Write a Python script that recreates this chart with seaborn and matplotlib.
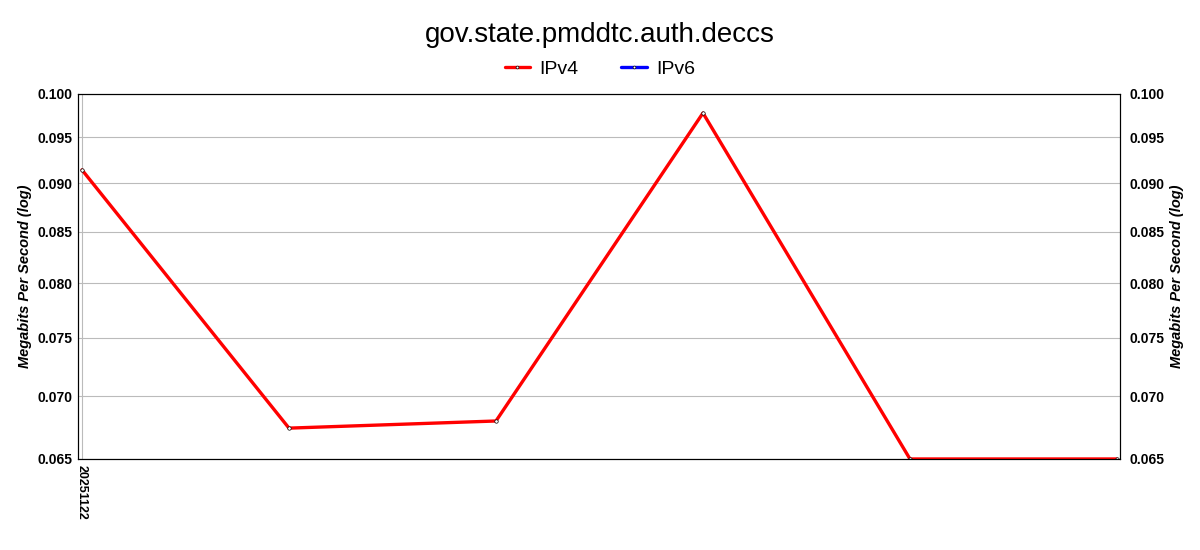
import matplotlib
matplotlib.use("Agg")
import matplotlib.pyplot as plt
import seaborn as sns
import pandas as pd
from matplotlib.ticker import FixedLocator, FixedFormatter, NullLocator
from matplotlib.lines import Line2D

title = "gov.state.pmddtc.auth.deccs"
dates = ["20251122", "", "", "", "", ""]
ipv4 = [0.09143, 0.06741, 0.06798, 0.09778, 0.0650, 0.0650]
ipv6 = []
yticks = [0.065, 0.070, 0.075, 0.080, 0.085, 0.090, 0.095, 0.100]

sns.set_theme(style="white")
plt.rcParams['font.family'] = ['Liberation Sans', 'DejaVu Sans']
plt.rcParams['text.color'] = 'black'
plt.rcParams['axes.labelcolor'] = 'black'
plt.rcParams['xtick.color'] = 'black'
plt.rcParams['ytick.color'] = 'black'

fig = plt.figure(figsize=(12, 5.5), dpi=100)
ax = fig.add_axes([0.065, 0.1655, 0.8683, 0.6636])

df = pd.DataFrame({"idx": list(range(len(ipv4))), "val": ipv4})
sns.lineplot(data=df, x="idx", y="val", ax=ax, color="#ff0000", linewidth=2.4,
             marker="o", markersize=2.5, markerfacecolor="white",
             markeredgecolor="black", markeredgewidth=0.5, legend=False, zorder=3)
ax.plot(range(len(ipv6)), ipv6, color="#0000ff", linewidth=2.4)

ax.set_yscale("log")
ax.set_ylim(0.065, 0.100)
ax.set_xlim(-0.0193, len(ipv4) - 1 + 0.0145)
ax.yaxis.set_major_locator(FixedLocator(yticks))
ax.yaxis.set_major_formatter(FixedFormatter([f"{v:.3f}" for v in yticks]))
ax.yaxis.set_minor_locator(NullLocator())
ax.set_xticks([0])
ax.set_xticklabels([dates[0]], rotation=-90, fontsize=9, fontweight="bold")
ax.grid(True, color="#bbbbbb", linewidth=0.8)
for s in ax.spines.values():
    s.set_color("black")
    s.set_linewidth(0.8)
ax.tick_params(axis="both", length=0, pad=4)
for lab in ax.get_yticklabels():
    lab.set_fontsize(10)
    lab.set_fontweight("bold")
ax.set_xlabel("")
ax.set_ylabel("Megabits Per Second (log)", fontsize=10.5, fontweight="bold", style="italic")

ax2 = ax.twinx()
ax2.set_yscale("log")
ax2.set_ylim(0.065, 0.100)
ax2.yaxis.set_major_locator(FixedLocator(yticks))
ax2.yaxis.set_major_formatter(FixedFormatter([f"{v:.3f}" for v in yticks]))
ax2.yaxis.set_minor_locator(NullLocator())
ax2.tick_params(axis="y", length=0, pad=7)
for lab in ax2.get_yticklabels():
    lab.set_fontsize(10)
    lab.set_fontweight("bold")
ax2.set_ylabel("Megabits Per Second (log)", fontsize=10.5, fontweight="bold", style="italic")
ax2.grid(False)
for s in ax2.spines.values():
    s.set_color("black")
    s.set_linewidth(0.8)

handles = [
    Line2D([], [], color="#ff0000", linewidth=2.4, marker="o", markersize=2,
           markerfacecolor="white", markeredgecolor="black", markeredgewidth=0.5),
    Line2D([], [], color="#0000ff", linewidth=2.4, marker="o", markersize=2,
           markerfacecolor="white", markeredgecolor="black", markeredgewidth=0.5),
]
fig.legend(handles, ["IPv4", "IPv6"], loc="center", bbox_to_anchor=(0.5, 0.875),
           ncol=2, frameon=False, fontsize=14, handlelength=1.3, columnspacing=2.2,
           handletextpad=0.5)
fig.suptitle(title, y=0.96, fontsize=20)

fig.savefig("out.png", dpi=100)
